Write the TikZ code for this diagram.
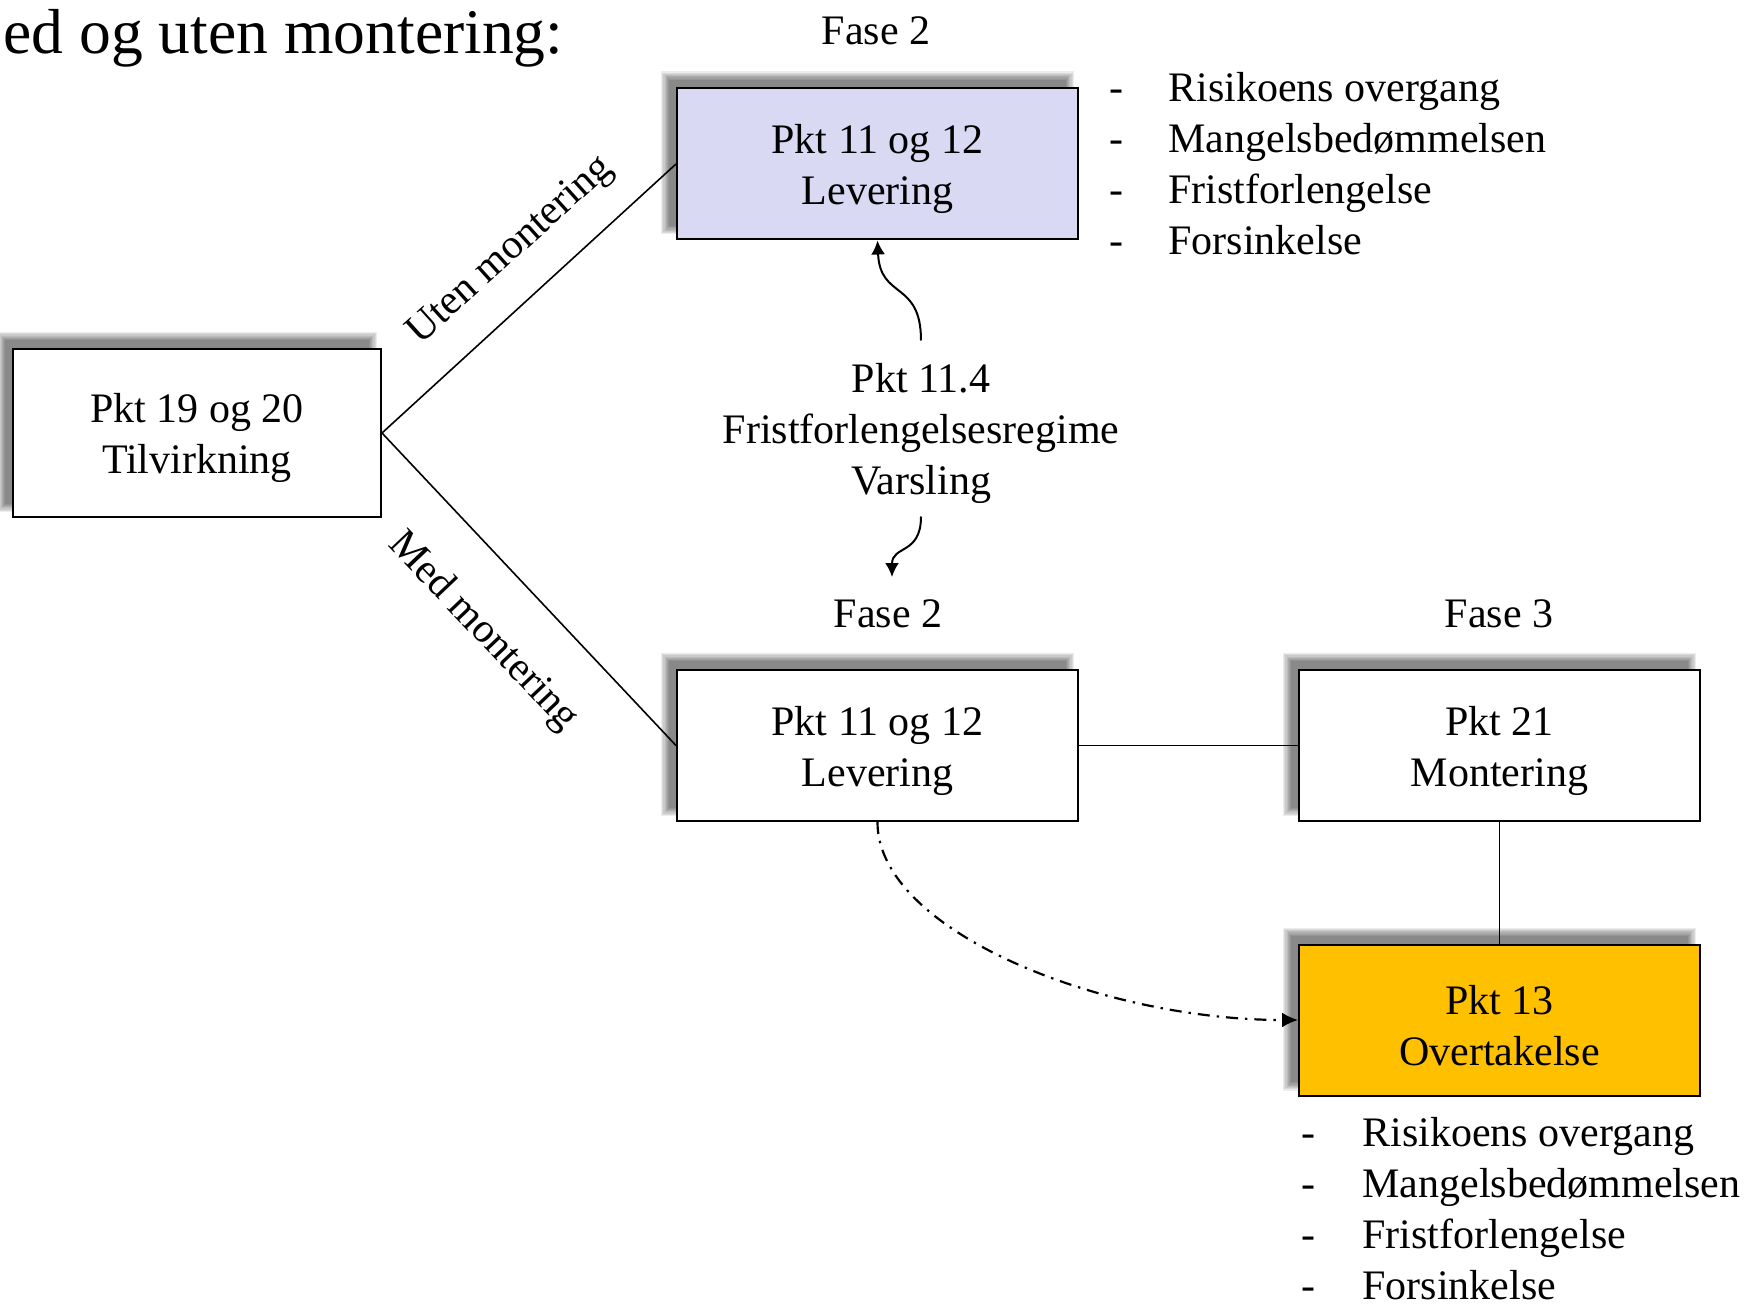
\documentclass[tikz,border=0pt]{standalone}
\usepackage{fontspec}
\setmainfont{Liberation Serif}
\usetikzlibrary{arrows.meta,backgrounds}
\definecolor{lav}{RGB}{217,217,243}
\definecolor{gold}{RGB}{255,192,0}
\newcommand{\tp}{\rule{0pt}{20pt}}
\begin{document}
\begin{tikzpicture}[x=0.5pt,y=-0.5pt,
  box/.style={draw=black, line width=1pt, fill=white, minimum width=200.5pt, minimum height=75.5pt, align=center, inner sep=0pt, font=\fontsize{21pt}{25.5pt}\selectfont},
  lbl/.style={inner sep=0pt, font=\fontsize{21pt}{25.5pt}\selectfont},
  rlbl/.style={inner sep=0pt, font=\fontsize{20.7pt}{24pt}\selectfont},
  conn/.style={line width=0.8pt},
  arr/.style={line width=1pt, -{Latex[length=7pt,width=7pt]}},
  dd/.style={line width=1.1pt, dash pattern=on 6pt off 3.5pt on 1.2pt off 3.5pt, -{Latex[length=8pt,width=7.5pt]}}
]
\useasboundingbox (0,0) rectangle (1750,1305);

% title
\node[anchor=base west, inner sep=0pt, font=\fontsize{31.8pt}{36pt}\selectfont] (title) at (3,54) {ed og uten montering:};

% boxes
\node[box, fill=lav] (top) at (877.5,164) {\tp Pkt 11 og 12\\Levering};
\node[box, minimum width=184pt, minimum height=84pt] (tilv) at (197,433) {\tp Pkt 19 og 20\\Tilvirkning};
\node[box] (lev) at (877.5,745.5) {\tp Pkt 11 og 12\\Levering};
\node[box] (mont) at (1499.5,745.5) {\tp Pkt 21\\Montering};
\node[box, fill=gold] (over) at (1499.5,1020) {\tp Pkt 13\\Overtakelse};

% shadows
\begin{scope}[on background layer]
\foreach \n in {top,tilv,lev,mont,over} {
  \foreach \k in {0,...,7} {
    \fill[black, opacity=0.075] ([shift={({-15+1.2*\k},{-16+1.2*\k})}]\n.north west) rectangle ([shift={({-5-1.2*\k},{-6-1.2*\k})}]\n.south east);
  }
}
\end{scope}

% phase labels
\node[lbl, anchor=base] (f2a) at (876,45) {Fase 2};
\node[lbl, anchor=base] (f2b) at (888,627) {Fase 2};
\node[lbl, anchor=base] (f3) at (1499,627) {Fase 3};

% middle text
\node[lbl, align=center] (mid) at (921,433) {Pkt 11.4\\Fristforlengelsesregime\\Varsling};

% rotated labels
\node[rlbl, rotate=42] (uten) at (511,251) {Uten montering};
\node[rlbl, rotate=-46.5] (med) at (483,632) {Med montering};

% connectors
\draw[conn] (tilv.east) -- (top.west);
\draw[conn] (tilv.east) -- (lev.west);
\draw[conn] (lev.east) -- (mont.west);
\draw[conn] (mont.south) -- (over.north);
\draw[dd] (lev.south) .. controls (877,930) and (1100,1020) .. (over.west);
\draw[arr] ([yshift=11pt]mid.north) .. controls (921,280) and (880,300) .. (top.south);
\coordinate (dend) at (892,577);
\draw[arr] ([yshift=-6.5pt]mid.south) .. controls (921,555) and (892,545) .. (dend);

% bullet lists
\foreach \t [count=\i] in {Risikoens overgang, Mangelsbedømmelsen, Fristforlengelse, Forsinkelse} {
  \node[lbl, anchor=base west] (da\i) at (1109,{102+51*(\i-1)}) {-};
  \node[lbl, anchor=base west] (ta\i) at (1168,{102+51*(\i-1)}) {\t};
  \node[lbl, anchor=base west] (db\i) at (1301,{1146+51*(\i-1)}) {-};
  \node[lbl, anchor=base west] (tb\i) at (1362,{1146+51*(\i-1)}) {\t};
}
\end{tikzpicture}
\end{document}
